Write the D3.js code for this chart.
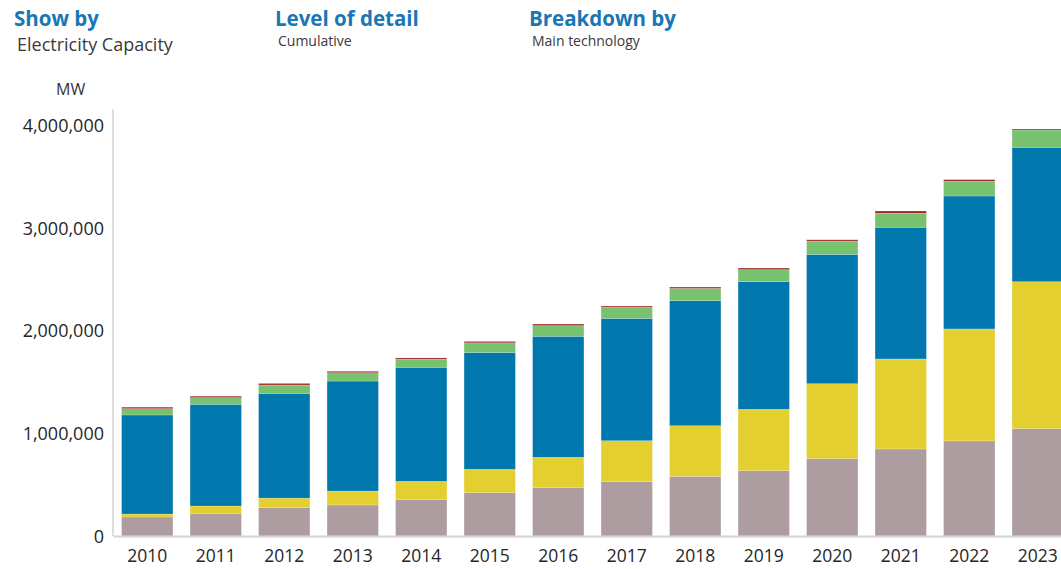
<!DOCTYPE html>
<html>
<head>
<meta charset="utf-8">
<script src="https://cdn.jsdelivr.net/npm/d3@7"></script>
<style>
  body { margin: 0; background: #fff; }
  text { font-family: "Open Sans", sans-serif; }
</style>
</head>
<body>
<div class="chart"></div>
<script>
const width = 1061;
const height = 569;

// capacity in MW
const years = ["2010", "2011", "2012", "2013", "2014", "2015", "2016", "2017", "2018", "2019", "2020", "2021", "2022", "2023"];
const wind = [185000, 221000, 275000, 302000, 357000, 421000, 474000, 528000, 581000, 635000, 752000, 847000, 925000, 1044000];
const solar = [29000, 71000, 94000, 136000, 175000, 228000, 292000, 399000, 492000, 598000, 730000, 876000, 1090000, 1431000];
const hydro = [964000, 990000, 1019000, 1070000, 1110000, 1137000, 1178000, 1191000, 1217000, 1242000, 1259000, 1282000, 1294000, 1308000];
const bio = [61000, 64000, 81000, 81000, 78000, 94000, 103000, 107000, 119000, 117000, 129000, 136000, 143000, 168000];
const other = [15000, 15000, 16000, 14000, 13000, 14000, 16000, 13000, 14000, 16000, 13000, 22000, 16000, 10000];
const yTicks = [0, 1000000, 2000000, 3000000, 4000000];

const seriesKeys = ["Wind", "Solar", "Hydropower", "Bioenergy", "Other"];
const seriesColors = ["#ad9da0", "#e4cf31", "#0077ad", "#76c26e", "#a3282a"];
const seriesValues = [wind, solar, hydro, bio, other];

const rows = years.map((yr, i) => {
  const row = { year: yr };
  seriesKeys.forEach((k, j) => row[k] = seriesValues[j][i]);
  return row;
});

const stacked = d3.stack().keys(seriesKeys)(rows);

const x = d3.scaleBand()
  .domain(years)
  .range([113, 1072])
  .paddingInner(0.25)
  .paddingOuter(0.125);

const y = d3.scaleLinear()
  .domain([0, 4000000])
  .range([536, 125]);

const svg = d3.select(".chart")
  .append("svg")
  .attr("width", width)
  .attr("height", height);

// header
const headers = [
  { title: "Show by", sub: "Electricity Capacity", x: 14, subX: 17, subSize: 18, subY: 51 },
  { title: "Level of detail", sub: "Cumulative", x: 275, subX: 278, subSize: 14, subY: 46 },
  { title: "Breakdown by", sub: "Main technology", x: 529, subX: 532, subSize: 14, subY: 46 },
];

headers.forEach(h => {
  svg.append("text")
    .attr("x", h.x)
    .attr("y", 26)
    .attr("font-size", "20.5px")
    .attr("font-weight", "bold")
    .attr("fill", "#1a76b4")
    .text(h.title);

  svg.append("text")
    .attr("x", h.subX)
    .attr("y", h.subY)
    .attr("font-size", h.subSize + "px")
    .attr("fill", "#3a3a3a")
    .text(h.sub);
});

svg.append("text")
  .attr("x", 56)
  .attr("y", 95)
  .attr("font-size", "16px")
  .attr("fill", "#333")
  .text("MW");

// bars
svg.append("g")
  .selectAll("g")
  .data(stacked)
  .join("g")
  .attr("fill", (d, i) => seriesColors[i])
  .selectAll("rect")
  .data(d => d)
  .join("rect")
  .attr("x", d => x(d.data.year))
  .attr("y", d => y(d[1]))
  .attr("width", x.bandwidth())
  .attr("height", d => y(d[0]) - y(d[1]))
  .attr("stroke", "#ffffff")
  .attr("stroke-width", 0.5)
  .attr("stroke-opacity", 0.4);

// y axis
const yAxis = svg.append("g")
  .attr("transform", "translate(104,0)")
  .call(d3.axisLeft(y).tickValues(yTicks).tickSize(0).tickPadding(0).tickFormat(d3.format(",")));

yAxis.select(".domain").remove();
yAxis.selectAll("text")
  .attr("font-family", "'Open Sans', sans-serif")
  .attr("font-size", "18px")
  .attr("fill", "#262626")
  .attr("dy", "0.36em");

svg.append("line")
  .attr("x1", 113)
  .attr("x2", 113)
  .attr("y1", y(4150000))
  .attr("y2", y(0))
  .attr("stroke", "#d4d4d4")
  .attr("stroke-width", 1.5);

// x axis
const xAxis = svg.append("g")
  .attr("transform", `translate(0,${y(0)})`)
  .call(d3.axisBottom(x).tickSize(0).tickPadding(13.6).tickSizeOuter(0));

xAxis.select(".domain")
  .attr("stroke", "#d4d4d4")
  .attr("stroke-width", 2);

xAxis.selectAll("text")
  .attr("font-family", "'Open Sans', sans-serif")
  .attr("font-size", "17.5px")
  .attr("fill", "#262626");
</script>
</body>
</html>
